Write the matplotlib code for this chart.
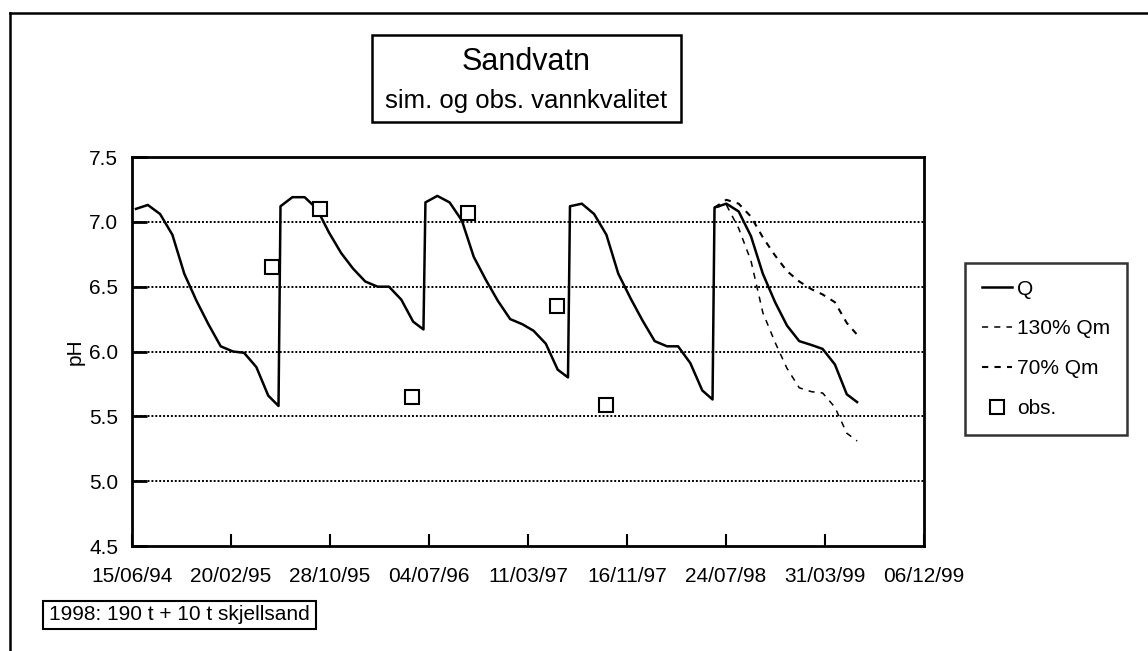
import matplotlib
matplotlib.use("Agg")
import matplotlib.pyplot as plt
import matplotlib.dates as mdates
from matplotlib.patches import Rectangle
from matplotlib.lines import Line2D
import pandas as pd

plt.rcParams['font.family'] = ['Liberation Sans', 'DejaVu Sans']

# ---- data (monthly simulated pH, one liming year per list: June -> June) ----
season_starts = ["1994-06-25", "1995-06-25", "1996-06-25", "1997-06-25", "1998-06-25"]
q_1994 = [7.10, 7.13, 7.06, 6.90, 6.60, 6.39, 6.21, 6.04, 6.00, 5.99, 5.88, 5.66, 5.58]
q_1995 = [7.12, 7.19, 7.19, 7.10, 6.92, 6.76, 6.64, 6.54, 6.50, 6.50, 6.40, 6.23, 6.17]
q_1996 = [7.15, 7.20, 7.15, 7.01, 6.73, 6.55, 6.39, 6.25, 6.21, 6.16, 6.06, 5.86, 5.80]
q_1997 = [7.12, 7.14, 7.06, 6.90, 6.60, 6.41, 6.24, 6.08, 6.04, 6.04, 5.91, 5.70, 5.63]
q_1998 = [7.11, 7.14, 7.08, 6.89, 6.60, 6.38, 6.20, 6.08, 6.05, 6.02, 5.90, 5.67, 5.61]
qm130_1998 = [7.11, 7.13, 6.95, 6.70, 6.30, 6.07, 5.87, 5.72, 5.69, 5.68, 5.57, 5.37, 5.31]
qm70_1998 = [7.11, 7.17, 7.14, 7.04, 6.88, 6.74, 6.62, 6.54, 6.48, 6.44, 6.38, 6.22, 6.13]

obs_dates = ["1995-06-04", "1995-10-03", "1996-05-22", "1996-10-10", "1997-05-23", "1997-09-24"]
obs_ph = [6.65, 7.10, 5.65, 7.07, 6.35, 5.59]

x_start = "1994-06-15"
tick_step_days = 250
n_ticks = 9
y_ticks = [4.5, 5.0, 5.5, 6.0, 6.5, 7.0, 7.5]

title = "Sandvatn"
subtitle = "sim. og obs. vannkvalitet"
note = "1998: 190 t + 10 t skjellsand"
labels = ["Q", "130% Qm", "70% Qm", "obs."]


def season_dates(start):
    s = pd.Timestamp(start)
    d = [s + pd.DateOffset(months=m) for m in range(12)]
    d.append(s + pd.DateOffset(months=12) - pd.Timedelta(days=5))
    return d


q_dates, q_vals = [], []
for st, vals in zip(season_starts, [q_1994, q_1995, q_1996, q_1997, q_1998]):
    q_dates += season_dates(st)
    q_vals += vals
d98 = season_dates(season_starts[-1])

# ---- figure ----
W, H = 1148, 651
fig = plt.figure(figsize=(W / 100, H / 100), dpi=100)


def fx(px):
    return px / W


def fy(py):
    return 1 - py / H


L, R, T, B = 132, 924, 157, 546
ax = fig.add_axes([fx(L), fy(B), fx(R - L), (B - T) / H])

ax.plot(q_dates, q_vals, color="black", lw=1.8, label=labels[0], zorder=4)
ax.plot(d98, qm130_1998, color="black", lw=1.1, dashes=(4, 4), label=labels[1], zorder=3)
ax.plot(d98, qm70_1998, color="black", lw=1.5, dashes=(3, 3), label=labels[2], zorder=3)
ax.plot(pd.to_datetime(obs_dates), obs_ph, ls="none", marker="s", ms=9.5,
        mfc="white", mec="black", mew=1.5, label=labels[3], zorder=5)

x0 = pd.Timestamp(x_start)
xt = [x0 + pd.Timedelta(days=tick_step_days * i) for i in range(n_ticks)]
ax.set_xlim(xt[0], xt[-1])
ax.set_xticks(xt)
ax.xaxis.set_major_formatter(mdates.DateFormatter("%d/%m/%y"))
ax.set_ylim(4.5, 7.5)
ax.set_yticks(y_ticks)
ax.set_yticklabels([f"{v:.1f}" for v in y_ticks])

for v in y_ticks[1:-1]:
    ax.axhline(v, color="black", lw=1.4, dashes=(1, 1), zorder=1)

ax.tick_params(axis="y", direction="in", length=11, width=2, labelsize=15, pad=10)
ax.tick_params(axis="x", direction="in", length=9, width=1.5, labelsize=15, pad=15)
for sp in ax.spines.values():
    sp.set_linewidth(2)
ax.set_ylabel("pH", fontsize=15, labelpad=3)

# title box
fig.patches.append(Rectangle((fx(372), fy(122)), fx(681 - 372), (122 - 35) / H,
                             transform=fig.transFigure, fill=False, ec="black", lw=1.8))
fig.text(fx(526.5), fy(70), title, ha="center", va="baseline", fontsize=22)
fig.text(fx(526.5), fy(108), subtitle, ha="center", va="baseline", fontsize=18.5)

# note box
fig.patches.append(Rectangle((fx(43), fy(629)), fx(316 - 43), (629 - 601) / H,
                             transform=fig.transFigure, fill=False, ec="black", lw=1.5))
fig.text(fx(179.5), fy(615), note, ha="center", va="center", fontsize=15)

# legend
leg = fig.legend(loc="upper left", bbox_to_anchor=(fx(965), fy(263)), fontsize=15,
                 frameon=True, fancybox=False, edgecolor="black", handlelength=1.45,
                 handletextpad=0.25, labelspacing=1.0, borderpad=0.8, borderaxespad=0)
leg.get_frame().set_linewidth(1.8)

# outer page frame (left and top edges)
fig.add_artist(Line2D([fx(10), fx(10)], [fy(13), 0], transform=fig.transFigure, color="black", lw=1.8))
fig.add_artist(Line2D([fx(10), 1], [fy(13), fy(13)], transform=fig.transFigure, color="black", lw=1.8))

fig.savefig("out.png", dpi=100)
